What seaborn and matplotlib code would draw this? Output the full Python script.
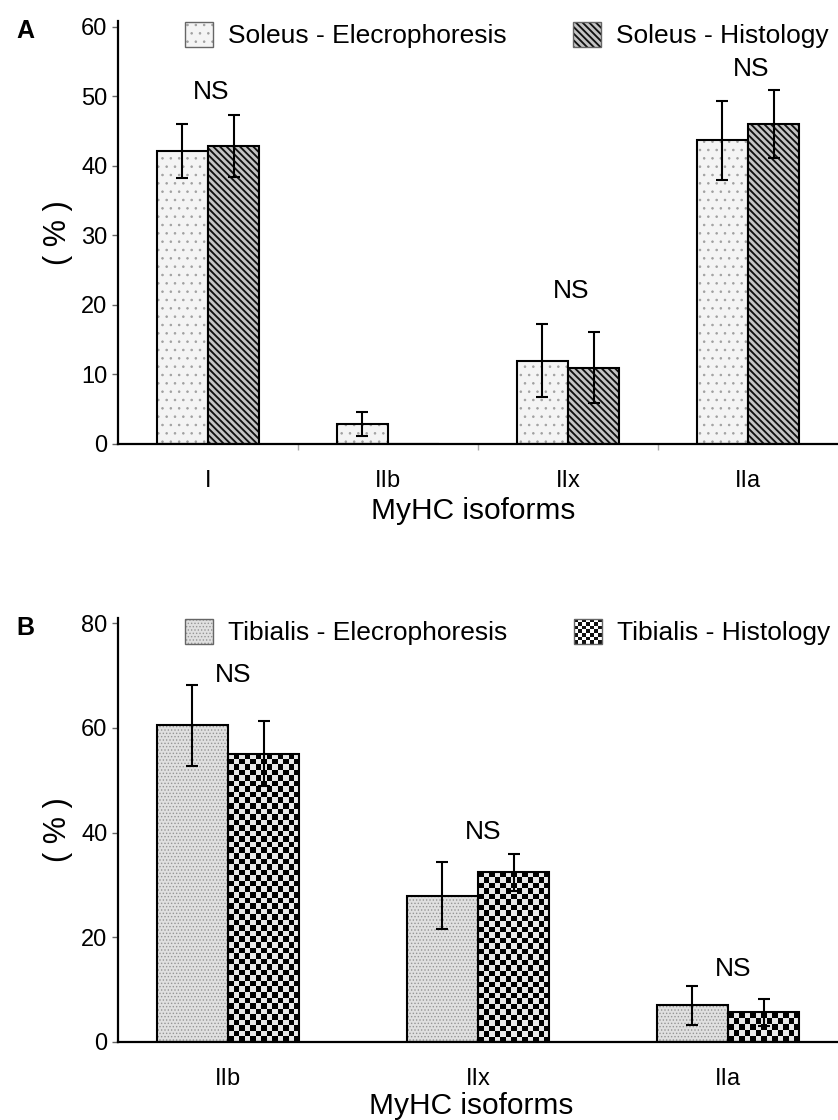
import numpy as np
import pandas as pd
import matplotlib
matplotlib.use('Agg')
import matplotlib.pyplot as plt
from matplotlib.colors import to_rgba
from matplotlib.patches import Patch, Rectangle
from matplotlib.legend_handler import HandlerBase
import seaborn as sns

# values (mean +/- error, %)
soleus_isoforms = ['I', 'IIb', 'IIx', 'IIa']
soleus_labels = ['Soleus - Elecrophoresis', 'Soleus - Histology']
soleus_elec = [42.2, 2.9, 12.0, 43.7]
soleus_elec_err = [3.9, 1.7, 5.2, 5.7]
soleus_hist = [42.9, 0.0, 11.0, 46.0]
soleus_hist_err = [4.5, 0.0, 5.1, 4.9]
soleus_ns = ['NS', '', 'NS', 'NS']

tibialis_isoforms = ['IIb', 'IIx', 'IIa']
tibialis_labels = ['Tibialis - Elecrophoresis', 'Tibialis - Histology']
tibialis_elec = [60.5, 27.9, 7.0]
tibialis_elec_err = [7.7, 6.4, 3.7]
tibialis_hist = [55.1, 32.4, 5.7]
tibialis_hist_err = [6.2, 3.6, 2.6]
tibialis_ns = ['NS', 'NS', 'NS']

sns.set_theme(style='white')
plt.rcParams['font.family'] = ['Liberation Sans', 'DejaVu Sans']
plt.rcParams['text.color'] = 'black'
plt.rcParams['axes.labelcolor'] = 'black'
plt.rcParams['hatch.linewidth'] = 1.0

W, H = 838, 1120
fig = plt.figure(figsize=(W / 100, H / 100), dpi=100)


def px_axes(left, top, right, bottom):
    return fig.add_axes([left / W, 1 - bottom / H, (right - left) / W, (bottom - top) / H])


def set_hatch_style(p, c, lw):
    if hasattr(p, 'set_hatchcolor'):
        p.set_hatchcolor(c)
    else:
        p._hatch_color = to_rgba(c)
    if hasattr(p, 'set_hatch_linewidth'):
        p.set_hatch_linewidth(lw)
    elif hasattr(p, '_hatch_linewidth'):
        p._hatch_linewidth = lw


class CheckerHandler(HandlerBase):
    def create_artists(self, legend, orig_handle, xdescent, ydescent, width, height, fontsize, trans):
        n = 7
        cw, ch = width / n, height / n
        arts = [Rectangle((-xdescent, -ydescent), width, height, facecolor='white',
                          edgecolor='none', transform=trans)]
        for i in range(n):
            for j in range(n):
                if (i + j) % 2 == 0:
                    arts.append(Rectangle((-xdescent + i * cw, -ydescent + j * ch), cw, ch,
                                          facecolor='#111111', edgecolor='none', transform=trans))
        arts.append(Rectangle((-xdescent, -ydescent), width, height, facecolor='none',
                              edgecolor='#666666', lw=1, transform=trans))
        return arts


def checker_fill(ax, patch, cell=5.5):
    x0, y0 = patch.get_x(), patch.get_y()
    w, h = patch.get_width(), patch.get_height()
    (px0, py0), (px1, py1) = ax.transData.transform([(x0, y0), (x0 + w, y0 + h)])
    nx = max(1, int(round(abs(px1 - px0) / cell)))
    ny = max(1, int(round(abs(py1 - py0) / cell)))
    arr = np.indices((ny, nx)).sum(0) % 2
    im = ax.imshow(arr, cmap='gray', vmin=0, vmax=1.1, extent=(x0, x0 + w, y0, y0 + h),
                   origin='lower', interpolation='nearest', aspect='auto', zorder=0.9)
    im.set_clip_path(patch)
    patch.set_facecolor('none')


def draw_panel(ax, isoforms, labels, elec, elec_err, hist, hist_err, ns, styles,
               xlim, ylim, yticks, letter, ns_offset):
    n = len(isoforms)
    df = pd.DataFrame({
        'isoform': isoforms * 2,
        'method': [labels[0]] * n + [labels[1]] * n,
        'value': elec + hist,
    })
    sns.barplot(data=df, x='isoform', y='value', hue='method', order=isoforms,
                hue_order=labels, palette=[styles[0]['fc'], styles[1]['fc']],
                saturation=1, width=0.57, errorbar=None, edgecolor='black',
                linewidth=1.5, legend=False, ax=ax)
    ax.set_xlim(*xlim)
    ax.set_ylim(*ylim)

    errs = [elec_err, hist_err]
    vals = [elec, hist]
    tops = np.zeros(n)
    bar_conts = list(ax.containers)[:2]
    for k, cont in enumerate(bar_conts):
        st = styles[k]
        for j, p in enumerate(cont.patches):
            if st['hatch'] == 'checker':
                checker_fill(ax, p)
            else:
                p.set_hatch(st['hatch'])
                set_hatch_style(p, st['hc'], st['hlw'])
            if vals[k][j] > 0:
                cx = p.get_x() + p.get_width() / 2
                ax.errorbar(cx, vals[k][j], yerr=errs[k][j], fmt='none', ecolor='black',
                            elinewidth=1.5, capsize=4, capthick=1.5, zorder=3)
                tops[j] = max(tops[j], vals[k][j] + errs[k][j])
    ax.set_xlim(*xlim)
    ax.set_ylim(*ylim)

    for j, txt in enumerate(ns):
        if txt:
            ax.text(j + 0.02, tops[j] + ns_offset[j], txt, ha='center', va='center', fontsize=19)

    handles = []
    hmap = {}
    for k, st in enumerate(styles):
        if st['hatch'] == 'checker':
            h = Patch(facecolor='white', edgecolor='#666666', lw=1)
            hmap[h] = CheckerHandler()
        else:
            h = Patch(facecolor=st['fc'], edgecolor='#666666', lw=1, hatch=st['hatch'])
            set_hatch_style(h, st['hc'], st['hlw'])
        handles.append(h)
    leg = ax.legend(handles, labels, ncol=2, loc='center left', frameon=False,
                    bbox_to_anchor=(67 / 720, 1 - 14 / 424), borderpad=0, borderaxespad=0,
                    handlelength=1.07, handleheight=1.07, handletextpad=0.57,
                    columnspacing=2.5, fontsize=19, handler_map=hmap)
    for h, st in zip(leg.get_patches(), styles):
        if st['hatch'] != 'checker':
            set_hatch_style(h, st['hc'], st['hlw'])

    ax.set_yticks(yticks)
    for s in ['top', 'right']:
        ax.spines[s].set_visible(False)
    for s in ['left', 'bottom']:
        ax.spines[s].set_linewidth(1.6)
        ax.spines[s].set_color('black')
    ax.tick_params(axis='y', left=True, length=4, width=1, color='#666666',
                   pad=3.5, labelsize=17, labelcolor='black')
    ax.tick_params(axis='x', bottom=False, pad=12.5, labelsize=17, labelcolor='black')
    ax.set_xlabel('MyHC isoforms', fontsize=21.5)
    ax.set_ylabel('( % )', fontsize=22, va='center')
    ax.yaxis.set_label_coords(-60 / 720, 0.5)
    ax.text(-93 / 720, 1 - 10 / 424, letter, transform=ax.transAxes, fontsize=18,
            fontweight='bold', ha='center', va='center')


ax_a = px_axes(118, 21, 838, 444)
draw_panel(ax_a, soleus_isoforms, soleus_labels, soleus_elec, soleus_elec_err,
           soleus_hist, soleus_hist_err, soleus_ns,
           [dict(fc='#f4f4f4', hatch='..', hc='#a0a0a0', hlw=0.6),
            dict(fc='#c4c4c4', hatch='\\' * 5, hc='#111111', hlw=1.35)],
           (-0.5, 3.5), (0, 60.86), [0, 10, 20, 30, 40, 50, 60], 'A',
           [3.2, 0, 4.8, 3.1])
ax_a.xaxis.set_label_coords(0.493, -53 / 423)
ax_a.set_xticks([0.5, 1.5, 2.5], minor=True)
ax_a.tick_params(axis='x', which='minor', bottom=True, length=4, width=1, color='#aaaaaa')

ax_b = px_axes(118, 618, 838, 1042)
draw_panel(ax_b, tibialis_isoforms, tibialis_labels, tibialis_elec, tibialis_elec_err,
           tibialis_hist, tibialis_hist_err, tibialis_ns,
           [dict(fc='#e0e0e0', hatch='.....', hc='#959595', hlw=0.6),
            dict(fc='white', hatch='checker', hc='black', hlw=1.0)],
           (-0.44, 2.44), (0, 81), [0, 20, 40, 60, 80], 'B',
           [2.0, 4.2, 3.2])
ax_b.xaxis.set_label_coords(0.49, -50 / 424)

fig.savefig('out.png', dpi=100)
